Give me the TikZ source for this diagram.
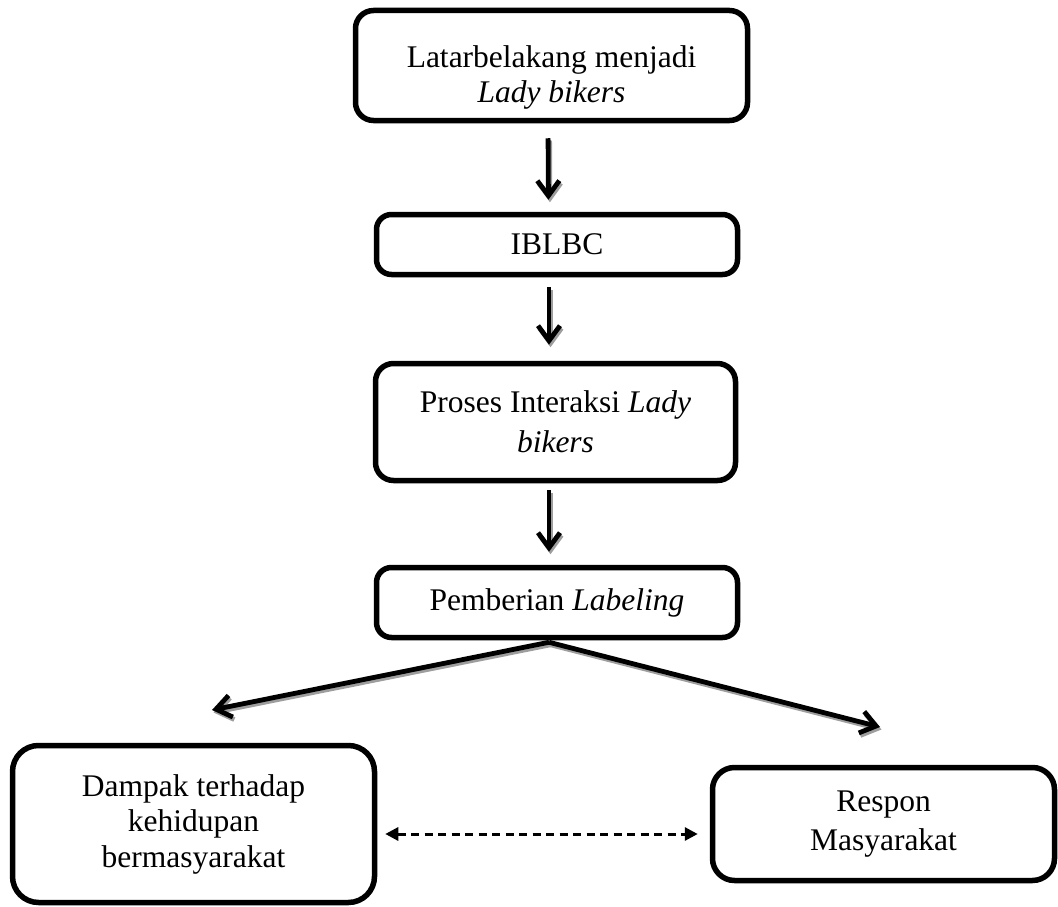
\documentclass[tikz,border=0pt]{standalone}
\usepackage{fontspec}
\setmainfont{Liberation Serif}
\usetikzlibrary{arrows.meta,calc}
\begin{document}
\begin{tikzpicture}[x=1pt,y=-1pt,
  box/.style={draw, line width=5.5pt, rounded corners=18pt, align=center, inner sep=0pt,
    font=\fontsize{31.5}{35.5}\selectfont},
  arr/.style={line width=4.8pt, -{Straight Barb[length=15pt,width=22pt]}},
  darr/.style={line width=3pt, dash pattern=on 8pt off 5.5pt, {Triangle[length=13pt,width=13pt]}-{Triangle[length=13pt,width=13pt]}}]
\useasboundingbox (0,0) rectangle (1058,907);

\node[box, minimum width=392pt, minimum height=110pt] (b1) at (551.5,65.5) {\rule{0pt}{46pt}Latarbelakang menjadi\\\textit{Lady bikers}};
\node[box, minimum width=361pt, minimum height=60pt, rounded corners=15pt] (b2) at (557,244.5) {IBLBC};
\node[box, minimum width=360pt, minimum height=117pt, font=\fontsize{31.5}{40}\selectfont] (b3) at (555.5,422) {Proses Interaksi \textit{Lady}\\\textit{bikers}};
\node[box, minimum width=361pt, minimum height=70pt, rounded corners=15pt] (b4) at (557,602.5) {Pemberian \textit{Labeling}};
\node[box, minimum width=362pt, minimum height=157pt, rounded corners=26pt] (b5) at (193.5,824) {Dampak terhadap\\kehidupan\\bermasyarakat};
\node[box, minimum width=342pt, minimum height=113pt, rounded corners=22pt, font=\fontsize{31.5}{39}\selectfont] (b6) at (883.5,824) {Respon\\Masyarakat};

\coordinate (split) at ([xshift=-8pt,yshift=-2pt]b4.south);
\coordinate (lend) at (212,710);
\coordinate (rend) at (880,727);

\newcommand{\myconnectors}{%
  \draw[arr, shorten <=15pt, shorten >=12pt] ([xshift=-3.5pt]b1.south) -- ([xshift=-8.5pt]b2.north);
  \draw[arr, shorten <=10pt, shorten >=16pt] ([xshift=-8pt]b2.south) -- ([xshift=-6.5pt]b3.north);
  \draw[arr, shorten <=7pt, shorten >=13pt] ([xshift=-6.5pt]b3.south) -- ([xshift=-8pt]b4.north);
  \draw[arr] (split) -- (lend);
  \draw[arr] (split) -- (rend);
}
\begin{scope}[transform canvas={xshift=1.5pt,yshift=-2.5pt}, black!38]
  \myconnectors
\end{scope}
\myconnectors

\draw[darr, shorten <=8pt, shorten >=12pt] ([yshift=-10pt]b5.east) -- ([yshift=-10pt]b6.west);
\end{tikzpicture}
\end{document}
